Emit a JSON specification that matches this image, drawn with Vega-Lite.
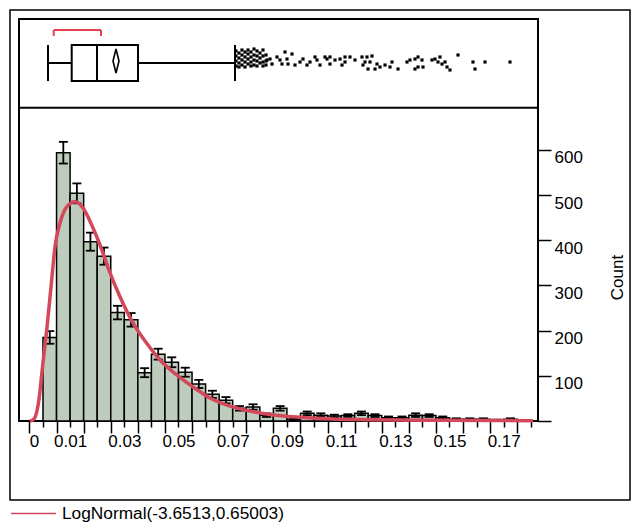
{
  "$schema": "https://vega.github.io/schema/vega-lite/v6.json",
  "autosize": {"type": "none"},
  "width": 519,
  "height": 402,
  "padding": {"left": 19, "top": 19, "right": 96, "bottom": 103},
  "background": "white",
  "datasets": {
    "bars": [
      {"bin_start": 0, "bin_end": 0.005, "mid": 0.0025, "count": 185, "lo": 171, "hi": 199},
      {"bin_start": 0.005, "bin_end": 0.01, "mid": 0.0075, "count": 594, "lo": 570, "hi": 618},
      {"bin_start": 0.01, "bin_end": 0.015, "mid": 0.0125, "count": 504, "lo": 482, "hi": 526},
      {"bin_start": 0.015, "bin_end": 0.02, "mid": 0.0175, "count": 397, "lo": 377, "hi": 417},
      {"bin_start": 0.02, "bin_end": 0.025, "mid": 0.0225, "count": 365, "lo": 346, "hi": 384},
      {"bin_start": 0.025, "bin_end": 0.03, "mid": 0.0275, "count": 240, "lo": 225, "hi": 255},
      {"bin_start": 0.03, "bin_end": 0.035, "mid": 0.0325, "count": 224, "lo": 209, "hi": 239},
      {"bin_start": 0.035, "bin_end": 0.04, "mid": 0.0375, "count": 107, "lo": 97, "hi": 117},
      {"bin_start": 0.04, "bin_end": 0.045, "mid": 0.0425, "count": 148, "lo": 136, "hi": 160},
      {"bin_start": 0.045, "bin_end": 0.05, "mid": 0.0475, "count": 130, "lo": 119, "hi": 141},
      {"bin_start": 0.05, "bin_end": 0.055, "mid": 0.0525, "count": 108, "lo": 98, "hi": 118},
      {"bin_start": 0.055, "bin_end": 0.06, "mid": 0.0575, "count": 82, "lo": 73, "hi": 91},
      {"bin_start": 0.06, "bin_end": 0.065, "mid": 0.0625, "count": 59, "lo": 51, "hi": 67},
      {"bin_start": 0.065, "bin_end": 0.07, "mid": 0.0675, "count": 46, "lo": 39, "hi": 53},
      {"bin_start": 0.07, "bin_end": 0.075, "mid": 0.0725, "count": 28, "lo": 23, "hi": 33},
      {"bin_start": 0.075, "bin_end": 0.08, "mid": 0.0775, "count": 31, "lo": 25, "hi": 37},
      {"bin_start": 0.08, "bin_end": 0.085, "mid": 0.0825, "count": 13, "lo": 9, "hi": 17},
      {"bin_start": 0.085, "bin_end": 0.09, "mid": 0.0875, "count": 28, "lo": 23, "hi": 33},
      {"bin_start": 0.09, "bin_end": 0.095, "mid": 0.0925, "count": 4, "lo": 2, "hi": 6},
      {"bin_start": 0.095, "bin_end": 0.1, "mid": 0.0975, "count": 17, "lo": 13, "hi": 21},
      {"bin_start": 0.1, "bin_end": 0.105, "mid": 0.1025, "count": 13, "lo": 9, "hi": 17},
      {"bin_start": 0.105, "bin_end": 0.11, "mid": 0.1075, "count": 11, "lo": 8, "hi": 14},
      {"bin_start": 0.11, "bin_end": 0.115, "mid": 0.1125, "count": 12, "lo": 9, "hi": 15},
      {"bin_start": 0.115, "bin_end": 0.12, "mid": 0.1175, "count": 17, "lo": 13, "hi": 21},
      {"bin_start": 0.12, "bin_end": 0.125, "mid": 0.1225, "count": 12, "lo": 9, "hi": 15},
      {"bin_start": 0.125, "bin_end": 0.13, "mid": 0.1275, "count": 7, "lo": 4, "hi": 10},
      {"bin_start": 0.13, "bin_end": 0.135, "mid": 0.1325, "count": 7, "lo": 4, "hi": 10},
      {"bin_start": 0.135, "bin_end": 0.14, "mid": 0.1375, "count": 13, "lo": 9, "hi": 17},
      {"bin_start": 0.14, "bin_end": 0.145, "mid": 0.1425, "count": 12, "lo": 9, "hi": 15},
      {"bin_start": 0.145, "bin_end": 0.15, "mid": 0.1475, "count": 7, "lo": 4, "hi": 10},
      {"bin_start": 0.15, "bin_end": 0.155, "mid": 0.1525, "count": 4, "lo": 2, "hi": 6},
      {"bin_start": 0.155, "bin_end": 0.16, "mid": 0.1575, "count": 4, "lo": 2, "hi": 6},
      {"bin_start": 0.16, "bin_end": 0.165, "mid": 0.1625, "count": 4, "lo": 2, "hi": 6},
      {"bin_start": 0.165, "bin_end": 0.17, "mid": 0.1675, "count": 2, "lo": 1, "hi": 3},
      {"bin_start": 0.17, "bin_end": 0.175, "mid": 0.1725, "count": 4, "lo": 2, "hi": 6}
    ],
    "curve": [
      {"x": -0.0048, "y": 0},
      {"x": -0.0033, "y": 4.4},
      {"x": -0.0017, "y": 39},
      {"x": 0.0001, "y": 135},
      {"x": 0.00137, "y": 201},
      {"x": 0.0032, "y": 312},
      {"x": 0.00443, "y": 386},
      {"x": 0.00627, "y": 438},
      {"x": 0.00875, "y": 474},
      {"x": 0.0118, "y": 485.5},
      {"x": 0.01487, "y": 471},
      {"x": 0.01797, "y": 434},
      {"x": 0.02103, "y": 390},
      {"x": 0.0241, "y": 338},
      {"x": 0.02841, "y": 275},
      {"x": 0.03332, "y": 216},
      {"x": 0.03827, "y": 172},
      {"x": 0.0432, "y": 135},
      {"x": 0.04934, "y": 102},
      {"x": 0.05546, "y": 75},
      {"x": 0.06162, "y": 51},
      {"x": 0.069, "y": 33},
      {"x": 0.07638, "y": 22},
      {"x": 0.08376, "y": 14.4},
      {"x": 0.09483, "y": 8.2},
      {"x": 0.107, "y": 4.4},
      {"x": 0.1196, "y": 2.9},
      {"x": 0.1439, "y": 1.5},
      {"x": 0.1808, "y": 0.7}
    ],
    "stats": [
      {"lo": 0.00185, "q1": 0.01059, "median": 0.01993, "q3": 0.03506, "hi": 0.07085, "mean": 0.02694, "shorth_lo": 0.00395, "shorth_hi": 0.0214}
    ],
    "outliers": [
      {"v": 0.07122, "j": 819.2}, {"v": 0.07122, "j": 808.1}, {"v": 0.07122, "j": 797.0}, {"v": 0.07122, "j": 785.9},
      {"v": 0.07232, "j": 814.7}, {"v": 0.07232, "j": 803.6}, {"v": 0.07232, "j": 792.6}, {"v": 0.07232, "j": 783.7},
      {"v": 0.07343, "j": 821.4}, {"v": 0.07343, "j": 810.3}, {"v": 0.07343, "j": 799.2}, {"v": 0.07343, "j": 788.1},
      {"v": 0.07454, "j": 816.9}, {"v": 0.07454, "j": 805.9}, {"v": 0.07454, "j": 794.8}, {"v": 0.07454, "j": 783.7},
      {"v": 0.07565, "j": 821.4}, {"v": 0.07565, "j": 812.5}, {"v": 0.07565, "j": 801.4}, {"v": 0.07565, "j": 790.3},
      {"v": 0.07675, "j": 816.9}, {"v": 0.07675, "j": 805.9}, {"v": 0.07675, "j": 794.8}, {"v": 0.07675, "j": 785.9},
      {"v": 0.07786, "j": 823.6}, {"v": 0.07786, "j": 810.3}, {"v": 0.07786, "j": 799.2}, {"v": 0.07786, "j": 788.1},
      {"v": 0.07897, "j": 819.2}, {"v": 0.07897, "j": 808.1}, {"v": 0.07897, "j": 797.0}, {"v": 0.07897, "j": 785.9},
      {"v": 0.08007, "j": 814.7}, {"v": 0.08007, "j": 803.6}, {"v": 0.08007, "j": 792.6},
      {"v": 0.08118, "j": 821.4}, {"v": 0.08118, "j": 808.1}, {"v": 0.08118, "j": 794.8}, {"v": 0.08118, "j": 785.9},
      {"v": 0.08229, "j": 810.3}, {"v": 0.08229, "j": 797.0}, {"v": 0.08229, "j": 788.1},
      {"v": 0.08266, "j": 799.2}, {"v": 0.08376, "j": 801.4}, {"v": 0.0845, "j": 790.3},
      {"v": 0.08635, "j": 805.9}, {"v": 0.08745, "j": 799.2}, {"v": 0.08819, "j": 790.3},
      {"v": 0.0893, "j": 816.9}, {"v": 0.09004, "j": 801.4}, {"v": 0.09041, "j": 790.3},
      {"v": 0.09188, "j": 812.5}, {"v": 0.09299, "j": 788.1}, {"v": 0.09483, "j": 794.8},
      {"v": 0.09594, "j": 801.4}, {"v": 0.09742, "j": 788.1}, {"v": 0.09852, "j": 794.8},
      {"v": 0.10037, "j": 805.9}, {"v": 0.10111, "j": 799.2}, {"v": 0.10221, "j": 788.1},
      {"v": 0.10406, "j": 805.9}, {"v": 0.1048, "j": 801.4}, {"v": 0.1059, "j": 805.9},
      {"v": 0.1059, "j": 790.3}, {"v": 0.10775, "j": 799.2}, {"v": 0.1096, "j": 801.4},
      {"v": 0.11033, "j": 788.1}, {"v": 0.11144, "j": 805.9}, {"v": 0.11144, "j": 794.8},
      {"v": 0.11328, "j": 805.9}, {"v": 0.11513, "j": 799.2}, {"v": 0.11771, "j": 805.9},
      {"v": 0.11882, "j": 794.8}, {"v": 0.11808, "j": 788.1}, {"v": 0.11956, "j": 805.9},
      {"v": 0.1214, "j": 808.1}, {"v": 0.12066, "j": 794.8}, {"v": 0.11993, "j": 779.3},
      {"v": 0.12325, "j": 790.3}, {"v": 0.12251, "j": 779.3}, {"v": 0.12435, "j": 783.7},
      {"v": 0.1262, "j": 788.1}, {"v": 0.12878, "j": 794.8}, {"v": 0.12804, "j": 783.7},
      {"v": 0.131, "j": 779.3}, {"v": 0.13432, "j": 794.8}, {"v": 0.13542, "j": 799.2},
      {"v": 0.13727, "j": 801.4}, {"v": 0.13838, "j": 805.9}, {"v": 0.13985, "j": 799.2},
      {"v": 0.13838, "j": 783.7}, {"v": 0.13727, "j": 779.3}, {"v": 0.14022, "j": 783.7},
      {"v": 0.14354, "j": 799.2}, {"v": 0.14465, "j": 801.4}, {"v": 0.14649, "j": 805.9},
      {"v": 0.14576, "j": 794.8}, {"v": 0.14723, "j": 790.3}, {"v": 0.14834, "j": 794.8},
      {"v": 0.14908, "j": 783.7}, {"v": 0.15018, "j": 777.1}, {"v": 0.15314, "j": 810.3},
      {"v": 0.15867, "j": 794.8}, {"v": 0.15941, "j": 779.3}, {"v": 0.1631, "j": 794.8},
      {"v": 0.17232, "j": 794.8}
    ]
  },
  "resolve": {"axis": {"x": "independent", "y": "independent"}},
  "layer": [
    {
      "data": {"name": "bars"},
      "mark": {"type": "bar", "orient": "vertical", "fill": "#bdccbc", "stroke": "black", "strokeWidth": 1.5},
      "encoding": {
        "x": {
          "field": "bin_start",
          "type": "quantitative",
          "scale": {"domain": [-0.008856, 0.182657], "nice": false, "zero": false, "padding": 0},
          "axis": {
            "orient": "bottom",
            "values": [0, 0.01, 0.02, 0.03, 0.04, 0.05, 0.06, 0.07, 0.08, 0.09, 0.1, 0.11, 0.12, 0.13, 0.14, 0.15, 0.16, 0.17, 0.18],
            "format": ".2~f",
            "labelExpr": "datum.value == 0 || abs(round(datum.value * 100)) % 2 == 1 ? datum.label : ''",
            "labelOffset": {"condition": {"test": "datum.value == 0", "value": -9}, "value": 0},
            "tickSize": 6,
            "labelPadding": 6,
            "labelOverlap": false,
            "labelFlush": false,
            "labelBound": false,
            "title": null
          }
        },
        "x2": {"field": "bin_end"},
        "y": {
          "field": "count",
          "type": "quantitative",
          "scale": {"domain": [0, 890], "nice": false, "padding": 0},
          "axis": {
            "orient": "right",
            "values": [0, 100, 200, 300, 400, 500, 600],
            "labelExpr": "datum.value == 0 ? '' : datum.label",
            "tickSize": 13,
            "labelPadding": 3,
            "labelBaseline": "top",
            "title": "Count",
            "titleAngle": -90,
            "titleX": 79,
            "titleY": 258,
            "titleAlign": "center",
            "titleBaseline": "middle"
          }
        },
        "y2": {"datum": 0}
      }
    },
    {
      "data": {"name": "bars"},
      "mark": {"type": "rule", "color": "black", "strokeWidth": 1.8},
      "encoding": {
        "x": {
          "field": "mid",
          "type": "quantitative",
          "scale": {"domain": [-0.008856, 0.182657], "nice": false, "zero": false, "padding": 0},
          "axis": {
            "orient": "bottom",
            "values": [-0.005, 0.005, 0.015, 0.025, 0.035, 0.045, 0.055, 0.065, 0.075, 0.085, 0.095, 0.105, 0.115, 0.125, 0.135, 0.145, 0.155, 0.165, 0.175],
            "labels": false,
            "tickSize": 12,
            "title": null
          }
        },
        "y": {"field": "lo", "type": "quantitative", "scale": {"domain": [0, 890], "nice": false, "padding": 0}, "axis": null},
        "y2": {"field": "hi"}
      }
    },
    {
      "data": {"name": "bars"},
      "mark": {"type": "tick", "orient": "horizontal", "size": 9, "thickness": 1.8, "color": "black", "opacity": 1},
      "encoding": {
        "x": {"field": "mid", "type": "quantitative", "scale": {"domain": [-0.008856, 0.182657], "nice": false, "zero": false, "padding": 0}, "axis": null},
        "y": {"field": "lo", "type": "quantitative", "scale": {"domain": [0, 890], "nice": false, "padding": 0}, "axis": null}
      }
    },
    {
      "data": {"name": "bars"},
      "mark": {"type": "tick", "orient": "horizontal", "size": 9, "thickness": 1.8, "color": "black", "opacity": 1},
      "encoding": {
        "x": {"field": "mid", "type": "quantitative", "scale": {"domain": [-0.008856, 0.182657], "nice": false, "zero": false, "padding": 0}, "axis": null},
        "y": {"field": "hi", "type": "quantitative", "scale": {"domain": [0, 890], "nice": false, "padding": 0}, "axis": null}
      }
    },
    {
      "data": {"name": "curve"},
      "mark": {"type": "line", "strokeWidth": 3.5, "interpolate": "monotone"},
      "encoding": {
        "x": {"field": "x", "type": "quantitative", "scale": {"domain": [-0.008856, 0.182657], "nice": false, "zero": false, "padding": 0}, "axis": null},
        "y": {"field": "y", "type": "quantitative", "scale": {"domain": [0, 890], "nice": false, "padding": 0}, "axis": null},
        "color": {
          "datum": "LogNormal(-3.6513,0.65003)",
          "scale": {"range": ["#d4485c"]},
          "legend": {
            "orient": "none",
            "legendX": -9,
            "legendY": 471,
            "padding": 0,
            "title": null,
            "symbolType": "stroke",
            "symbolSize": 2025,
            "symbolStrokeWidth": 1.5,
            "labelFont": "Liberation Sans",
            "labelFontSize": 17.3,
            "labelColor": "black",
            "labelLimit": 0,
            "labelOffset": 5
          }
        }
      }
    },
    {
      "data": {"values": [{}]},
      "mark": {"type": "rule", "color": "black", "strokeWidth": 2},
      "encoding": {"y": {"datum": 693.5, "type": "quantitative", "scale": {"domain": [0, 890], "nice": false, "padding": 0}, "axis": null}}
    },
    {
      "data": {"values": [{}]},
      "mark": {"type": "rect", "fill": null, "stroke": "black", "strokeWidth": 1.5},
      "encoding": {
        "x": {"datum": -0.01218, "type": "quantitative", "scale": {"domain": [-0.008856, 0.182657], "nice": false, "zero": false, "padding": 0}, "axis": null},
        "x2": {"datum": 0.21661},
        "y": {"datum": -174.9, "type": "quantitative", "scale": {"domain": [0, 890], "nice": false, "padding": 0}, "axis": null},
        "y2": {"datum": 909.9}
      }
    },
    {
      "data": {"name": "stats"},
      "layer": [
        {
          "mark": {"type": "rule", "color": "black", "strokeWidth": 2},
          "encoding": {
            "x": {"field": "lo", "type": "quantitative", "scale": {"domain": [-0.008856, 0.182657], "nice": false, "zero": false, "padding": 0}, "axis": null},
            "x2": {"field": "q1"},
            "y": {"datum": 792.6, "type": "quantitative", "scale": {"domain": [0, 890], "nice": false, "padding": 0}, "axis": null}
          }
        },
        {
          "mark": {"type": "rule", "color": "black", "strokeWidth": 2},
          "encoding": {
            "x": {"field": "q3", "type": "quantitative", "scale": {"domain": [-0.008856, 0.182657], "nice": false, "zero": false, "padding": 0}, "axis": null},
            "x2": {"field": "hi"},
            "y": {"datum": 792.6, "type": "quantitative", "scale": {"domain": [0, 890], "nice": false, "padding": 0}, "axis": null}
          }
        },
        {
          "mark": {"type": "rule", "color": "black", "strokeWidth": 2},
          "encoding": {
            "x": {"field": "lo", "type": "quantitative", "scale": {"domain": [-0.008856, 0.182657], "nice": false, "zero": false, "padding": 0}, "axis": null},
            "y": {"datum": 832.4, "type": "quantitative", "scale": {"domain": [0, 890], "nice": false, "padding": 0}, "axis": null},
            "y2": {"datum": 752.7}
          }
        },
        {
          "mark": {"type": "rule", "color": "black", "strokeWidth": 2},
          "encoding": {
            "x": {"field": "hi", "type": "quantitative", "scale": {"domain": [-0.008856, 0.182657], "nice": false, "zero": false, "padding": 0}, "axis": null},
            "y": {"datum": 832.4, "type": "quantitative", "scale": {"domain": [0, 890], "nice": false, "padding": 0}, "axis": null},
            "y2": {"datum": 752.7}
          }
        },
        {
          "mark": {"type": "rect", "fill": "white", "stroke": "black", "strokeWidth": 2},
          "encoding": {
            "x": {"field": "q1", "type": "quantitative", "scale": {"domain": [-0.008856, 0.182657], "nice": false, "zero": false, "padding": 0}, "axis": null},
            "x2": {"field": "q3"},
            "y": {"datum": 832.4, "type": "quantitative", "scale": {"domain": [0, 890], "nice": false, "padding": 0}, "axis": null},
            "y2": {"datum": 752.7}
          }
        },
        {
          "mark": {"type": "rule", "color": "black", "strokeWidth": 2},
          "encoding": {
            "x": {"field": "median", "type": "quantitative", "scale": {"domain": [-0.008856, 0.182657], "nice": false, "zero": false, "padding": 0}, "axis": null},
            "y": {"datum": 832.4, "type": "quantitative", "scale": {"domain": [0, 890], "nice": false, "padding": 0}, "axis": null},
            "y2": {"datum": 752.7}
          }
        },
        {
          "mark": {"type": "point", "shape": "M0,-1L0.25,0L0,1L-0.25,0Z", "size": 576, "filled": false, "stroke": "black", "strokeWidth": 1.6, "opacity": 1},
          "encoding": {
            "x": {"field": "mean", "type": "quantitative", "scale": {"domain": [-0.008856, 0.182657], "nice": false, "zero": false, "padding": 0}, "axis": null},
            "y": {"datum": 797, "type": "quantitative", "scale": {"domain": [0, 890], "nice": false, "padding": 0}, "axis": null}
          }
        },
        {
          "mark": {"type": "rule", "color": "#e6404f", "strokeWidth": 2},
          "encoding": {
            "x": {"field": "shorth_lo", "type": "quantitative", "scale": {"domain": [-0.008856, 0.182657], "nice": false, "zero": false, "padding": 0}, "axis": null},
            "x2": {"field": "shorth_hi"},
            "y": {"datum": 865.6, "type": "quantitative", "scale": {"domain": [0, 890], "nice": false, "padding": 0}, "axis": null}
          }
        },
        {
          "mark": {"type": "rule", "color": "#e6404f", "strokeWidth": 2},
          "encoding": {
            "x": {"field": "shorth_lo", "type": "quantitative", "scale": {"domain": [-0.008856, 0.182657], "nice": false, "zero": false, "padding": 0}, "axis": null},
            "y": {"datum": 865.6, "type": "quantitative", "scale": {"domain": [0, 890], "nice": false, "padding": 0}, "axis": null},
            "y2": {"datum": 852.4}
          }
        },
        {
          "mark": {"type": "rule", "color": "#e6404f", "strokeWidth": 2},
          "encoding": {
            "x": {"field": "shorth_hi", "type": "quantitative", "scale": {"domain": [-0.008856, 0.182657], "nice": false, "zero": false, "padding": 0}, "axis": null},
            "y": {"datum": 865.6, "type": "quantitative", "scale": {"domain": [0, 890], "nice": false, "padding": 0}, "axis": null},
            "y2": {"datum": 852.4}
          }
        }
      ]
    },
    {
      "data": {"name": "outliers"},
      "mark": {"type": "square", "size": 10, "color": "black", "opacity": 1},
      "encoding": {
        "x": {"field": "v", "type": "quantitative", "scale": {"domain": [-0.008856, 0.182657], "nice": false, "zero": false, "padding": 0}, "axis": null},
        "y": {"field": "j", "type": "quantitative", "scale": {"domain": [0, 890], "nice": false, "padding": 0}, "axis": null}
      }
    }
  ],
  "config": {
    "view": {"stroke": "black", "strokeWidth": 2},
    "font": "Liberation Sans",
    "axis": {
      "labelFont": "Liberation Sans",
      "labelFontSize": 17,
      "labelColor": "black",
      "tickColor": "black",
      "tickWidth": 1.5,
      "domain": false,
      "grid": false,
      "titleFont": "Liberation Sans",
      "titleFontSize": 17,
      "titleFontWeight": "normal",
      "titleColor": "black"
    }
  }
}
